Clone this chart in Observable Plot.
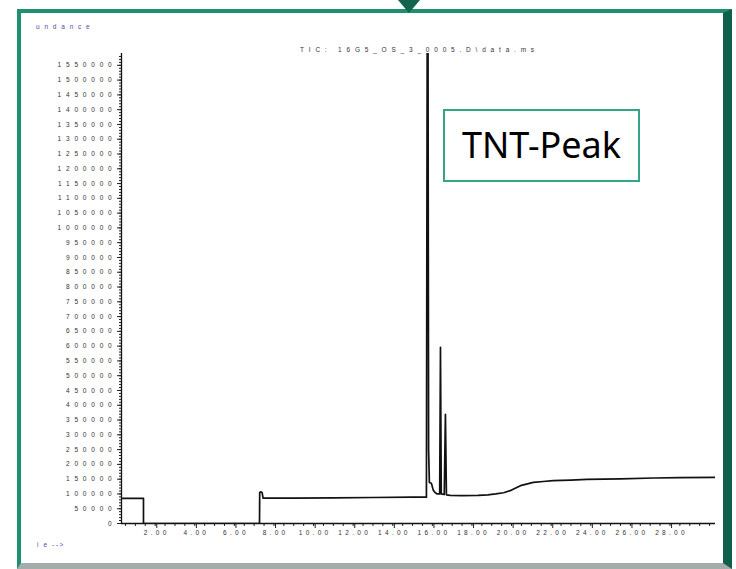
<!DOCTYPE html>
<html><head><meta charset="utf-8">
<script src="https://cdn.jsdelivr.net/npm/d3@7"></script>
<script src="https://cdn.jsdelivr.net/npm/@observablehq/plot@0.6"></script>
<style>
body{margin:0;width:736px;height:569px;position:relative;overflow:hidden;background:#fff;font-family:"Liberation Sans",Arial,sans-serif}
#frame{position:absolute;left:17px;top:9px;width:715px;height:560px;box-sizing:border-box;
  border-left:4px solid #1f8f72;border-top:4px solid #1f8f72;border-right:9px solid #0f5f4a;border-bottom:6px solid #a3aeaa}
#tri{position:absolute;left:398px;top:0;width:0;height:0;border-left:11px solid transparent;border-right:11px solid transparent;border-top:13px solid #12644f}
#chart{position:absolute;left:0;top:0}
.small{position:absolute;font-size:6.5px;white-space:pre;line-height:1}
#ylab{left:36px;top:24px;color:#4b4ba6;letter-spacing:4.8px}
#title{left:300px;top:47px;color:#333;letter-spacing:4.8px}
#xlab{left:37px;top:542px;color:#4b4ba6;letter-spacing:1.6px}
#note{position:absolute;left:443px;top:109px;width:197px;height:73px;box-sizing:border-box;border:2px solid #35a487;background:#fff;
  font-family:"Noto Sans",sans-serif;font-size:36px;color:#000;display:flex;align-items:center;justify-content:center;padding-bottom:2px}
g[aria-label="y-axis tick label"] text{letter-spacing:4.8px}
g[aria-label="x-axis tick label"] text{letter-spacing:3.3px}
</style></head><body>
<div id="frame"></div>
<div id="tri"></div>
<div id="chart"></div>
<div class="small" id="ylab">undance</div>
<div class="small" id="title">TIC: 16G5_OS_3_0005.D\data.ms</div>
<div class="small" id="xlab">i e --&gt;</div>
<div id="note">TNT-Peak</div>
<script>
const times = [0.3, 1.41, 1.41, 7.27, 7.28, 7.33, 7.40, 7.45, 9, 11, 13, 15, 15.70, 15.74, 15.78, 15.81, 15.85, 15.95, 16.05, 16.15, 16.25, 16.37, 16.41, 16.45, 16.6, 16.66, 16.71, 16.9, 17.5, 18.3, 18.8, 19.2, 19.6, 20.0, 20.45, 20.8, 21.1, 21.6, 22.1, 23.0, 23.8, 25.5, 27.2, 28.5, 30.3];
const abundance = [85000, 85000, 0, 0, 105000, 107000, 105000, 86000, 86000, 87000, 88000, 89000, 89000, 1650000, 1650000, 250000, 139000, 136000, 112000, 104000, 100000, 100000, 596000, 100000, 98000, 369000, 97000, 95000, 94000, 95000, 97000, 100000, 104000, 113000, 128000, 134000, 139000, 142000, 145000, 147000, 149000, 151000, 154000, 155000, 156000];
const xMajorTicks = [2, 4, 6, 8, 10, 12, 14, 16, 18, 20, 22, 24, 26, 28];
const yTicks = [0, 50000, 100000, 150000, 200000, 250000, 300000, 350000, 400000, 450000, 500000, 550000, 600000, 650000, 700000, 750000, 800000, 850000, 900000, 950000, 1000000, 1050000, 1100000, 1150000, 1200000, 1250000, 1300000, 1350000, 1400000, 1450000, 1500000, 1550000];
const xMinorTicks = d3.range(0.5, 30.3, 0.5);
const yMinorTicks = d3.range(0, 1590000, 10000);

const data = times.map((t, i) => ({t, a: abundance[i]}));

const plot = Plot.plot({
  width: 736, height: 569,
  marginLeft: 121, marginRight: 21, marginTop: 53, marginBottom: 46,
  x: {domain: [0.3, 30.3]},
  y: {domain: [0, 1590000]},
  style: {background: "transparent", fontFamily: "Liberation Sans, Arial, sans-serif", fontSize: "6.5px", color: "#333", overflow: "visible"},
  marks: [
    Plot.axisY(yMinorTicks, {tickSize: 2, tickFormat: () => "", label: null, stroke: "#222"}),
    Plot.axisY(yTicks, {tickSize: 4, tickPadding: 1, tickFormat: d => String(d), label: null, stroke: "#222"}),
    Plot.axisX(xMinorTicks, {tickSize: 3, tickFormat: () => "", label: null, stroke: "#222"}),
    Plot.axisX(xMajorTicks, {tickSize: 5, tickPadding: 2, dx: 1.6, tickFormat: d => d.toFixed(2), label: null, stroke: "#222"}),
    Plot.ruleY([0], {stroke: "#111", strokeWidth: 1.3}),
    Plot.ruleX([0.3], {stroke: "#111", strokeWidth: 1.3}),
    Plot.line(data, {x: "t", y: "a", stroke: "#111", strokeWidth: 1.7, clip: true})
  ]
});
document.getElementById("chart").appendChild(plot);
</script>
</body></html>
